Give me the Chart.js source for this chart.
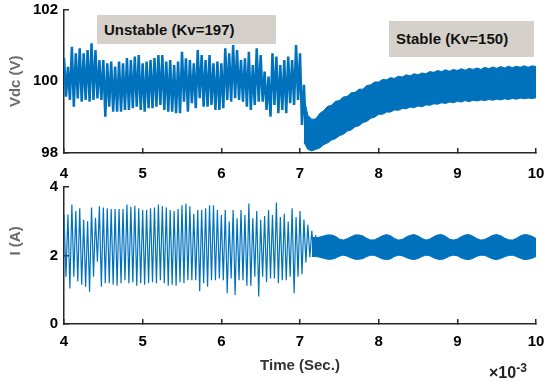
<!DOCTYPE html>
<html>
<head>
<meta charset="utf-8">
<script src="https://cdn.jsdelivr.net/npm/chart.js@4"></script>
<style>
  body { margin: 0; background: #fff; }
  #wrap { position: relative; width: 545px; height: 385px; font-family: "Liberation Sans", Arial, sans-serif; }
  canvas { position: absolute; left: 0; top: 0; }
  .note { position: absolute; background: #d5d1ca; color: #111; font-weight: bold; font-size: 15px; box-sizing: border-box; padding-left: 7px; }
  .exp { position: absolute; left: 489px; top: 361px; font-size: 16px; font-weight: bold; color: #222; }
  .exp sup { font-size: 12px; }
</style>
</head>
<body>
<div id="wrap">
  <canvas id="vdc" width="545" height="385"></canvas>
  <canvas id="cur" width="545" height="385"></canvas>
  <div class="note" style="left:97px;top:15px;width:179px;height:29px;line-height:29px;">Unstable (Kv=197)</div>
  <div class="note" style="left:389px;top:21px;width:145px;height:36px;line-height:36px;">Stable (Kv=150)</div>
  <div class="exp">&times;10<sup>-3</sup></div>
</div>
<script>
// time in ms (axis shows x10^-3 s)
var xTicks = [4, 5, 6, 7, 8, 9, 10];
var halfStep = 0.025;   // spacing between a peak and the next trough
var bandStep = 0.05;

// unstable part, Vdc: alternating peaks / troughs from t = 4.0
var vPeaks = [100.65,100.40,100.96,100.78,100.92,100.78,100.87,101.06,100.87,100.59,100.59,100.50,100.55,100.41,100.55,100.50,100.65,100.59,100.69,100.73,100.50,100.55,100.59,100.65,100.73,100.73,100.55,100.59,100.45,100.55,
  100.82,100.64,100.59,100.50,100.87,100.73,100.59,100.73,100.50,100.55,100.50,100.92,100.78,101.01,100.87,100.59,100.64,100.82,100.45,100.92,100.73,100.27,100.13,100.78,100.69,100.45,100.59,100.69,100.59,101.01,
  100.78,99.90];
var vTroughs = [99.57,99.48,99.29,99.52,99.43,99.48,99.43,99.48,99.52,99.48,99.01,99.29,99.15,99.15,99.15,99.20,99.20,99.25,99.29,99.20,99.15,99.25,99.25,99.29,99.34,99.20,99.15,99.15,99.11,99.11,
  99.43,99.15,99.39,99.25,99.53,99.29,99.29,99.34,99.20,99.20,99.25,99.48,99.43,99.53,99.48,99.43,99.29,99.20,99.34,99.43,99.43,99.20,99.01,99.34,99.11,99.20,99.11,99.39,99.34,99.48,
  98.78,98.45];

// stable part, Vdc envelope from t = 7.05
var vBandStart = 7.05;
var vUpper = [99.55,99.05,98.94,98.95,99.10,99.18,99.30,99.33,99.44,99.46,99.56,99.58,99.68,99.69,99.78,99.78,99.88,99.90,99.98,99.98,
  100.05,100.04,100.10,100.08,100.14,100.12,100.18,100.15,100.21,100.18,100.23,100.21,100.27,100.25,100.30,100.27,100.32,100.28,100.33,100.30,
  100.35,100.31,100.36,100.33,100.37,100.33,100.39,100.35,100.40,100.36,100.41,100.37,100.42,100.38,100.42,100.39,100.43,100.39,100.43,100.41];
var vLower = [98.30,98.10,98.06,98.10,98.14,98.23,98.28,98.36,98.40,98.48,98.52,98.61,98.64,98.73,98.76,98.85,98.88,98.97,99.00,99.08,
  99.08,99.14,99.14,99.20,99.19,99.24,99.23,99.28,99.26,99.31,99.29,99.34,99.33,99.37,99.36,99.40,99.38,99.42,99.40,99.44,
  99.42,99.46,99.43,99.47,99.45,99.48,99.46,99.49,99.47,99.50,99.48,99.51,99.49,99.52,99.50,99.53,99.51,99.53,99.52,99.54];

// unstable part, current
var iPeaks = [3.20,3.20,3.49,3.30,3.38,3.04,3.00,3.40,3.10,3.44,3.40,3.38,3.36,3.36,3.36,3.36,3.49,3.42,3.45,3.38,3.33,3.33,3.38,3.40,3.49,3.44,3.40,3.33,3.30,3.36,
  3.47,3.52,3.44,3.22,3.33,3.33,3.38,3.47,3.47,3.33,3.18,3.33,2.99,3.33,3.09,3.33,3.18,3.52,3.09,3.30,3.04,3.15,3.33,3.18,3.55,3.12,3.22,2.99,3.38,3.12,
  3.30,3.05,2.90,2.72,2.60];
var iTroughs = [1.38,1.04,1.38,1.25,1.15,1.09,0.94,1.38,1.82,1.09,1.19,1.19,1.15,1.12,1.19,1.28,1.19,1.22,1.12,1.19,1.15,1.19,1.22,1.19,1.28,1.19,1.12,1.15,1.12,1.22,
  1.19,1.28,1.28,1.28,0.96,1.19,1.09,1.28,1.28,1.33,1.28,0.90,1.33,0.85,1.28,1.28,1.12,1.12,1.38,0.80,1.38,1.22,1.33,1.33,1.19,1.28,1.28,1.38,0.90,1.38,
  1.45,1.80,1.95,2.05];

// stable part, current envelope from t = 7.15
var iBandStart = 7.15;
var iUpper = [2.53,2.52,2.54,2.57,2.60,2.60,2.56,2.48,2.45,2.49,2.55,2.60,2.60,2.57,2.50,2.45,2.46,
  2.52,2.58,2.61,2.58,2.50,2.45,2.47,2.54,2.59,2.61,2.57,2.50,2.45,2.48,2.55,2.60,2.61,2.56,2.48,2.45,
  2.48,2.55,2.60,2.61,2.56,2.49,2.45,2.47,2.53,2.59,2.61,2.58,2.51,2.46,2.45,2.50,2.57,2.61,2.60,2.56,
  2.50];
var iLower = [1.97,1.97,1.95,1.92,1.89,1.89,1.92,1.98,2.01,1.98,1.93,1.89,1.89,1.91,1.97,2.01,2.00,
  1.95,1.90,1.88,1.90,1.97,2.01,1.99,1.94,1.90,1.88,1.91,1.97,2.01,1.99,1.93,1.89,1.88,1.92,1.98,2.01,
  1.99,1.93,1.89,1.88,1.92,1.98,2.01,2.00,1.95,1.90,1.88,1.91,1.96,2.00,2.01,1.97,1.92,1.88,1.89,1.92,
  1.97];

var blue = "#0072BD";
var fam = "'Liberation Sans', Arial, sans-serif";

function zigzag(t0, hi, lo) {
  var pts = [];
  for (var k = 0; k < hi.length; k++) {
    pts.push({ x: t0 + 2 * k * halfStep, y: hi[k] });
    if (k < lo.length) pts.push({ x: t0 + (2 * k + 1) * halfStep, y: lo[k] });
  }
  return pts;
}
function band(t0, vals) {
  return vals.map(function (v, i) { return { x: t0 + i * bandStep, y: v }; });
}

function makeChart(id, cfg) {
  var xScale = {
    type: "linear", min: xTicks[0], max: xTicks[xTicks.length - 1],
    afterBuildTicks: function (s) { s.ticks = xTicks.map(function (v) { return { value: v }; }); },
    afterFit: function (s) { s.height = cfg.xHeight; s.paddingLeft = 0; s.paddingRight = 0; },
    border: { color: "#262626", width: 1.5 },
    grid: { drawOnChartArea: false, drawTicks: true, tickLength: -5, color: "#262626", lineWidth: 1.5 },
    ticks: { color: "#000", padding: cfg.xPad, maxRotation: 0, font: { family: fam, size: 15, weight: "bold" } },
    title: { display: !!cfg.xTitle, text: cfg.xTitle || "", color: "#333", padding: { top: 0, bottom: 10 },
      font: { family: fam, size: 15, weight: "bold" } }
  };
  var yScale = {
    min: cfg.yTicks[0], max: cfg.yTicks[cfg.yTicks.length - 1],
    afterBuildTicks: function (s) { s.ticks = cfg.yTicks.map(function (v) { return { value: v }; }); },
    afterFit: function (s) { s.width = 64; s.paddingTop = 0; s.paddingBottom = 0; },
    border: { color: "#262626", width: 1.5 },
    grid: { drawOnChartArea: false, drawTicks: true, tickLength: -5, color: "#262626", lineWidth: 1.5 },
    ticks: { color: "#000", padding: 11, font: { family: fam, size: 15, weight: "bold" } },
    title: { display: true, text: cfg.yTitle, color: "#6b6b6b", padding: { top: 7, bottom: 0 },
      font: { family: fam, size: 15, weight: "bold" } }
  };
  return new Chart(document.getElementById(id), {
    type: "line",
    data: {
      datasets: [
        { data: cfg.line, borderColor: blue, borderWidth: cfg.lineWidth, pointRadius: 0, tension: 0, fill: false },
        { data: cfg.upper, borderColor: blue, borderWidth: 1, pointRadius: 0, tension: 0, fill: false },
        { data: cfg.lower, borderColor: blue, borderWidth: 1, pointRadius: 0, tension: 0, fill: "-1", backgroundColor: blue }
      ]
    },
    options: {
      responsive: false, animation: false,
      layout: { padding: cfg.pad },
      plugins: { legend: { display: false }, tooltip: { enabled: false } },
      scales: { x: xScale, y: yScale }
    }
  });
}

makeChart("vdc", {
  line: zigzag(xTicks[0], vPeaks, vTroughs),
  upper: band(vBandStart, vUpper), lower: band(vBandStart, vLower),
  lineWidth: 2.5, yTicks: [98, 100, 102], yTitle: "Vdc (V)",
  xHeight: 32, xPad: 17, pad: { top: 9.5, right: 9, bottom: 200, left: 0 }
});
makeChart("cur", {
  line: zigzag(xTicks[0], iPeaks, iTroughs),
  upper: band(iBandStart, iUpper), lower: band(iBandStart, iLower),
  lineWidth: 1.2, yTicks: [0, 2, 4], yTitle: "       I (A)", xTitle: "Time (Sec.)",
  xHeight: 61, xPad: 14, pad: { top: 187, right: 9, bottom: 0, left: 0 }
});
</script>
</body>
</html>
